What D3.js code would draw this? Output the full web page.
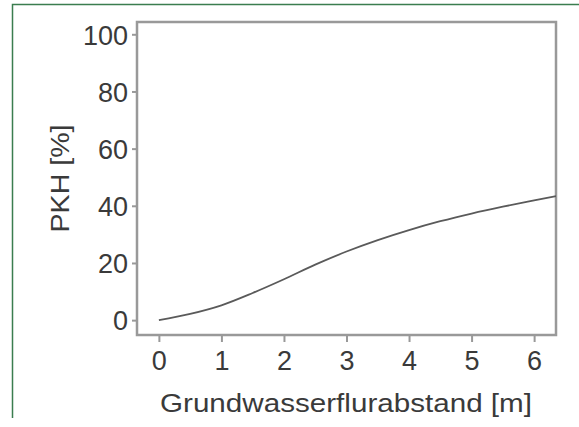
<!DOCTYPE html>
<html>
<head>
<meta charset="utf-8">
<script src="https://cdn.jsdelivr.net/npm/d3@7"></script>
<style>
    body { margin: 0; background: #fff; }
    svg text { font-family: "Liberation Sans", Arial, sans-serif; fill: #3a3a3a; }
</style>
</head>
<body>
<div id="chart"></div>
<script>
// curve values
var abstand = [0, 0.5, 1, 1.5, 2, 2.5, 3, 3.5, 4, 4.5, 5, 5.5, 6, 6.35];
var pkh     = [0, 2.2, 5.2, 9.5, 14.3, 19.4, 24, 28, 31.5, 34.6, 37.3, 39.7, 41.9, 43.4];
var x_ticks = [0, 1, 2, 3, 4, 5, 6];
var y_ticks = [0, 20, 40, 60, 80, 100];

var data = abstand.map(function(d, i){
    return {x: d, y: pkh[i]};
});

var chart_width  = 579;
var chart_height = 427;
var plot = {left: 137, top: 22, right: 556, bottom: 335};
var axis_color = '#999';

var svg = d3.select('#chart')
    .append('svg')
    .attr('width', chart_width)
    .attr('height', chart_height);

// green frame (top and left only)
svg.append('path')
    .attr('d', 'M12.5,418 L12.5,4.5 L579,4.5')
    .attr('fill', 'none')
    .attr('stroke', '#3b7d4f')
    .attr('stroke-width', 1.5);

// scales
var x_scale = d3.scaleLinear()
    .domain([-0.35, 6.35])
    .range([plot.left, plot.right]);

var y_scale = d3.scaleLinear()
    .domain([-5.2, 104.3])
    .range([plot.bottom, plot.top]);

// axes
var x_axis = d3.axisBottom(x_scale)
    .tickValues(x_ticks)
    .tickSize(7)
    .tickPadding(9)
    .tickFormat(d3.format('d'));

var y_axis = d3.axisLeft(y_scale)
    .tickValues(y_ticks)
    .tickSize(5)
    .tickPadding(4)
    .tickFormat(d3.format('d'));

var gx = svg.append('g')
    .attr('transform', 'translate(0,' + plot.bottom + ')')
    .call(x_axis);

var gy = svg.append('g')
    .attr('transform', 'translate(' + plot.left + ',0)')
    .call(y_axis);

[gx, gy].forEach(function(g){
    g.select('.domain').remove();
    g.selectAll('line')
        .attr('stroke', axis_color)
        .attr('stroke-width', 2);
    g.selectAll('text')
        .attr('font-size', 27)
        .attr('font-family', '"Liberation Sans", Arial, sans-serif')
        .attr('fill', '#3a3a3a');
});
gx.selectAll('text').attr('dy', '0.71em');
gy.selectAll('text').attr('dy', '0.36em');

// plot box
svg.append('rect')
    .attr('x', plot.left)
    .attr('y', plot.top)
    .attr('width', plot.right - plot.left)
    .attr('height', plot.bottom - plot.top)
    .attr('fill', 'none')
    .attr('stroke', axis_color)
    .attr('stroke-width', 2.5);

// curve
svg.append('clipPath')
    .attr('id', 'clip')
    .append('rect')
    .attr('x', plot.left)
    .attr('y', plot.top)
    .attr('width', plot.right - plot.left)
    .attr('height', plot.bottom - plot.top);

var line = d3.line()
    .x(function(d){ return x_scale(d.x); })
    .y(function(d){ return y_scale(d.y); })
    .curve(d3.curveMonotoneX);

svg.append('path')
    .datum(data)
    .attr('clip-path', 'url(#clip)')
    .attr('d', line)
    .attr('fill', 'none')
    .attr('stroke', '#5a5a5a')
    .attr('stroke-width', 1.8);

// axis titles
svg.append('text')
    .text('Grundwasserflurabstand [m]')
    .attr('x', 346)
    .attr('y', 412)
    .attr('text-anchor', 'middle')
    .attr('font-size', 26)
    .attr('textLength', 372)
    .attr('lengthAdjust', 'spacingAndGlyphs');

svg.append('text')
    .text('PKH [%]')
    .attr('transform', 'translate(69,' + (plot.top + plot.bottom) / 2 + ') rotate(-90)')
    .attr('text-anchor', 'middle')
    .attr('font-size', 26)
    .attr('textLength', 108)
    .attr('lengthAdjust', 'spacingAndGlyphs');
</script>
</body>
</html>
